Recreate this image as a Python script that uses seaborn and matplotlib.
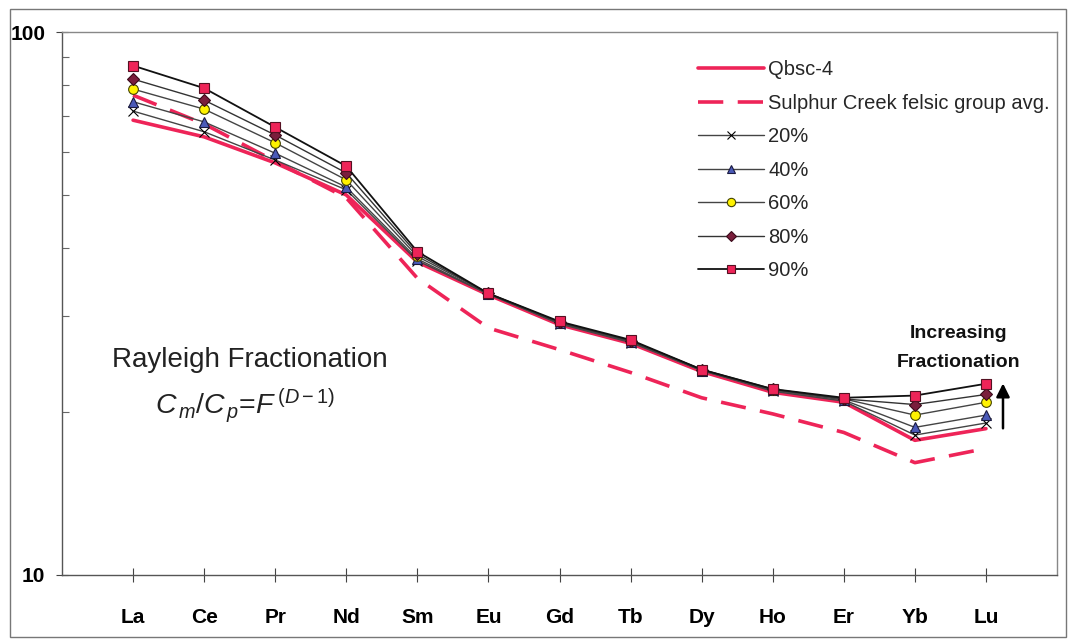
import numpy as np
import pandas as pd
import matplotlib
matplotlib.use('Agg')
import matplotlib.pyplot as plt
from matplotlib.lines import Line2D
from matplotlib.patches import Rectangle
import seaborn as sns

# REE diagram - Rayleigh fractionation models vs Qbsc-4
elements = ['La', 'Ce', 'Pr', 'Nd', 'Sm', 'Eu', 'Gd', 'Tb', 'Dy', 'Ho', 'Er', 'Yb', 'Lu']

qbsc4 = [68.8, 64.1, 57.4, 50.1, 37.7, 32.8, 28.9, 26.7, 23.7, 21.7, 20.8, 17.7, 18.6]
sulphur_avg = [76.5, 67.7, 57.8, 49.5, 35.2, 28.5, 26.0, 23.6, 21.2, 19.8, 18.3, 16.1, 17.1]
f20 = [71.5, 65.5, 58.1, 51.2, 37.9, 32.9, 29.0, 26.8, 23.8, 21.8, 20.9, 18.1, 19.05]
f40 = [74.4, 68.3, 59.8, 51.8, 38.2, 32.9, 29.1, 26.9, 23.8, 21.9, 21.0, 18.7, 19.7]
f60 = [78.5, 72.1, 62.5, 53.4, 38.6, 33.0, 29.2, 27.0, 23.9, 21.9, 21.1, 19.7, 20.8]
f80 = [81.9, 74.9, 64.6, 55.0, 39.0, 33.0, 29.2, 27.0, 23.9, 22.0, 21.1, 20.6, 21.5]
f90 = [86.7, 78.8, 66.8, 56.6, 39.4, 33.0, 29.3, 27.1, 23.9, 22.0, 21.2, 21.4, 22.5]

sns.set_style('white')
plt.rcParams['font.family'] = ['Liberation Sans', 'DejaVu Sans']
plt.rcParams['mathtext.fontset'] = 'custom'
plt.rcParams['mathtext.rm'] = 'Liberation Sans'
plt.rcParams['mathtext.it'] = 'Liberation Sans:italic'

red = '#EE2458'
pos = np.arange(len(elements))

fig = plt.figure(figsize=(10.69, 6.40), dpi=100)
ax = fig.add_axes([0.058, 0.1016, 0.9308, 0.8484])

# outer chart frame
fig.patches.append(Rectangle((0.009, 0.005), 0.988, 0.981, transform=fig.transFigure,
                             fill=False, edgecolor='#777777', linewidth=1))

sns.lineplot(x=pos, y=qbsc4, color=red, linewidth=2.6, sort=False, ax=ax)
sns.lineplot(x=pos, y=sulphur_avg, color=red, linewidth=2.6, sort=False, ax=ax,
             dashes=False, linestyle=(0, (7, 4)))

models = [
    ('20%', f20, 'x', 'black', 'black', '#444444', 1.0),
    ('40%', f40, '^', '#4A5AB8', '#1A1A40', '#444444', 1.0),
    ('60%', f60, 'o', '#FFF200', '#444400', '#444444', 1.0),
    ('80%', f80, 'D', '#7A1E3C', '#3A0A1A', '#333333', 1.0),
    ('90%', f90, 's', '#EE2458', '#551122', '#111111', 1.3),
]
for name, vals, mk, fc, ec, lc, lw in models:
    sns.lineplot(x=pos, y=vals, color=lc, linewidth=lw, sort=False, ax=ax,
                 marker=mk, markersize=7 if mk != 'D' else 6,
                 markerfacecolor=fc, markeredgecolor=ec, markeredgewidth=0.8)

ax.set_yscale('log')
ax.set_ylim(10, 100)
ax.set_xlim(-1, 13)
ax.set_xticks(pos)
ax.set_xticklabels(elements, fontsize=15, fontweight='bold')
ax.set_yticks([10, 100])
ax.set_yticklabels(['10', '100'], fontsize=15, fontweight='bold')
ax.yaxis.set_minor_locator(matplotlib.ticker.LogLocator(base=10, subs=np.arange(2, 10)))
ax.yaxis.set_minor_formatter(matplotlib.ticker.NullFormatter())
ax.tick_params(which='both', bottom=True, left=True)
ax.tick_params(axis='x', which='major', direction='inout', length=10, width=0.8,
               colors='#444444', labelcolor='black', pad=19)
ax.tick_params(axis='x', which='minor', bottom=False)
ax.tick_params(axis='y', which='major', direction='inout', length=8, width=0.8,
               colors='#444444', labelcolor='black', pad=8)
ax.tick_params(axis='y', which='minor', direction='in', length=5, width=0.8, colors='#666666')
ax.set_xlabel('')
ax.set_ylabel('')
for side in ['left', 'bottom']:
    ax.spines[side].set_color('#555555')
    ax.spines[side].set_linewidth(1.0)
for side in ['top', 'right']:
    ax.spines[side].set_color('#888888')
    ax.spines[side].set_linewidth(1.0)

# legend
handles = [
    Line2D([], [], color=red, linewidth=2.6),
    Line2D([], [], color=red, linewidth=2.6, linestyle=(0, (7, 4))),
]
labels = ['Qbsc-4', 'Sulphur Creek felsic group avg.']
for name, vals, mk, fc, ec, lc, lw in models:
    handles.append(Line2D([], [], color=lc, linewidth=lw, marker=mk,
                          markersize=6 if mk != 'D' else 5,
                          markerfacecolor=fc, markeredgecolor=ec, markeredgewidth=0.8))
    labels.append(name)
ax.legend(handles, labels, loc='upper left', bbox_to_anchor=(0.635, 0.955),
          frameon=False, fontsize=14.5, handlelength=3.3, handletextpad=0.2,
          labelspacing=0.72, borderaxespad=0, borderpad=0.2)

ax.text(0.189, 0.396, 'Rayleigh Fractionation', transform=ax.transAxes,
        ha='center', va='center', fontsize=20, color='#222222')
ax.text(0.184, 0.312, r'$C_{\,m}/C_{\,p}$=$F^{\,(D-1)}$', transform=ax.transAxes,
        ha='center', va='center', fontsize=20.5, color='#222222')
ax.text(0.9015, 0.418, 'Increasing\nFractionation', transform=ax.transAxes,
        ha='center', va='center', fontsize=14, fontweight='bold',
        linespacing=1.95, color='#111111')
ax.annotate('', xy=(0.9457, 0.358), xytext=(0.9457, 0.265), xycoords='axes fraction',
            arrowprops=dict(arrowstyle='-|>', color='black', lw=1.8, mutation_scale=20))

plt.savefig('out.png', dpi=100)
